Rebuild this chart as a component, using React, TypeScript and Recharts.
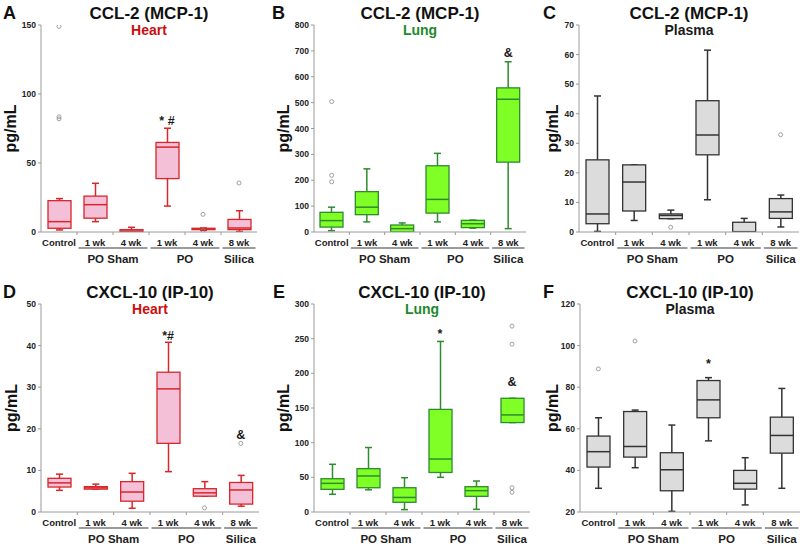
import React from 'react';
import { ComposedChart, Bar, Line, XAxis, YAxis } from 'recharts';

const FONT = "'Liberation Sans', Arial, Helvetica, sans-serif";

const categories = ['Control', 'Sham 1 wk', 'Sham 4 wk', 'PO 1 wk', 'PO 4 wk', 'Silica 8 wk'];
const tickLabels = ['Control', '1 wk', '4 wk', '1 wk', '4 wk', '8 wk'];
const groupLabels = [
  { label: 'PO Sham', start: 1, span: 2 },
  { label: 'PO', start: 3, span: 2 },
  { label: 'Silica', start: 5, span: 1 },
];

// A: CCL-2 heart
const aMin = [1.5, 7.5, 0, 18.8, 1.2, 0.4];
const aQ1 = [2.7, 10, 0.2, 38.7, 1.7, 1.7];
const aMed = [7.5, 19.8, 0.7, 61.5, 2.2, 2.9];
const aQ3 = [22.7, 26, 1.7, 64.9, 2.7, 9.1];
const aMax = [24.2, 35.3, 3.4, 75.2, 2.9, 15.4];
const aOut = [[149, 83.5, 82], [], [], [], [12.8, 1.0], [35.5]];
const aMarks = ['', '', '', '* #', '', ''];
const aMarkY = [null, null, null, 80.5, null, null];
const aTicks = [0, 50, 100, 150];

// B: CCL-2 lung
const bMin = [5, 39, 0, 39, 15, 13];
const bQ1 = [19, 67, 0, 73, 17, 270];
const bMed = [44, 96, 13, 126, 32, 513];
const bQ3 = [76, 156, 27, 256, 45, 557];
const bMax = [96, 244, 35, 304, 46, 658];
const bOut = [[504, 219, 194], [], [], [], [], []];
const bMarks = ['', '', '', '', '', '&'];
const bMarkY = [null, null, null, null, null, 694];
const bTicks = [0, 100, 200, 300, 400, 500, 600, 700, 800];

// C: CCL-2 plasma
const cMin = [0.2, 3.9, 4.5, 10.9, 0, 1.7];
const cQ1 = [2.8, 7.1, 4.5, 26.1, 0.1, 4.6];
const cMed = [6.1, 16.9, 5.6, 32.8, 0.1, 6.8];
const cQ3 = [24.4, 22.7, 6.1, 44.4, 3.3, 11.3];
const cMax = [46, 22.7, 7.4, 61.5, 4.6, 12.5];
const cOut = [[], [], [1.6], [], [], [32.9]];
const cMarks = ['', '', '', '', '', ''];
const cMarkY = [null, null, null, null, null, null];
const cTicks = [0, 10, 20, 30, 40, 50, 60, 70];

// D: CXCL-10 heart
const dMin = [5.2, 5.5, 0.9, 9.7, 3.8, 1.4];
const dQ1 = [6.0, 5.5, 2.6, 16.5, 3.8, 1.9];
const dMed = [7.0, 5.8, 4.8, 29.6, 4.6, 5.3];
const dQ3 = [8.1, 6.1, 7.3, 33.6, 5.6, 7.1];
const dMax = [9.1, 6.7, 9.3, 40.8, 7.3, 8.8];
const dOut = [[], [], [], [], [1.0], [16.5]];
const dMarks = ['', '', '', '*#', '', '&'];
const dMarkY = [null, null, null, 42.5, null, 18.6];
const dTicks = [0, 10, 20, 30, 40, 50];

// E: CXCL-10 lung
const eMin = [25.5, 32, 3.4, 50, 3.8, 129];
const eQ1 = [32.7, 35, 14, 57, 22.6, 129];
const eMed = [41.3, 52, 21, 76.4, 30.8, 140];
const eQ3 = [48, 62.5, 35, 148, 36.5, 164];
const eMax = [68.8, 93, 49.5, 246, 44.7, 164];
const eOut = [[], [], [], [], [], [268, 242, 35, 28.4]];
const eMarks = ['', '', '', '*', '', '&'];
const eMarkY = [null, null, null, 257, null, 188];
const eTicks = [0, 50, 100, 150, 200, 250, 300];

// F: CXCL-10 plasma
const fMin = [31.4, 41.3, 20.3, 54.2, 23.4, 31.4];
const fQ1 = [41.6, 46.4, 30.2, 65.3, 31, 48.3];
const fMed = [49, 51.5, 40.3, 73.9, 33.8, 56.8];
const fQ3 = [56.5, 68.3, 48.5, 83.2, 40, 65.6];
const fMax = [65.3, 69, 61.8, 84.6, 46.1, 79.4];
const fOut = [[88.8], [102.2], [], [], [], []];
const fMarks = ['', '', '', '*', '', ''];
const fMarkY = [null, null, null, 91.4, null, null];
const fTicks = [20, 40, 60, 80, 100, 120];

const heart = { fill: '#f3c0d8', stroke: '#d8262a', label: '#cc0d0d' };
const lung = { fill: '#80ff26', stroke: '#2e8b2e', label: '#1b8a2b' };
const plasma = { fill: '#dcdcdc', stroke: '#333333', label: '#1a1a1a' };

function buildRows(mins, q1s, meds, q3s, maxs, outs, marks, markYs) {
  return categories.map((cat, i) => ({
    cat,
    range: [mins[i], maxs[i]],
    q1: q1s[i],
    med: meds[i],
    q3: q3s[i],
    o1: outs[i][0] ?? null,
    o2: outs[i][1] ?? null,
    o3: outs[i][2] ?? null,
    o4: outs[i][3] ?? null,
    mark: marks[i],
    markY: markYs[i],
  }));
}

const row1 = { top: 0, height: 270, plotTop: 25, xHeight: 38 };
const row2 = { top: 270, height: 277, plotTop: 34, xHeight: 35 };

const panels = [
  { ...row1, left: 0, width: 265, yWidth: 41, right: 8, letterX: 3, yLabelX: 11, letter: 'A', title: 'CCL-2 (MCP-1)', sub: 'Heart', theme: heart, domain: [0, 150], ticks: aTicks, rows: buildRows(aMin, aQ1, aMed, aQ3, aMax, aOut, aMarks, aMarkY) },
  { ...row1, left: 265, width: 265, yWidth: 49, right: 4, letterX: 7, yLabelX: 19, letter: 'B', title: 'CCL-2 (MCP-1)', sub: 'Lung', theme: lung, domain: [0, 800], ticks: bTicks, rows: buildRows(bMin, bQ1, bMed, bQ3, bMax, bOut, bMarks, bMarkY) },
  { ...row1, left: 530, width: 270, yWidth: 49, right: 1, letterX: 13, yLabelX: 23, letter: 'C', title: 'CCL-2 (MCP-1)', sub: 'Plasma', theme: plasma, domain: [0, 70], ticks: cTicks, rows: buildRows(cMin, cQ1, cMed, cQ3, cMax, cOut, cMarks, cMarkY) },
  { ...row2, left: 0, width: 265, yWidth: 41, right: 6, letterX: 3, yLabelX: 12, letter: 'D', title: 'CXCL-10 (IP-10)', sub: 'Heart', theme: heart, domain: [0, 50], ticks: dTicks, rows: buildRows(dMin, dQ1, dMed, dQ3, dMax, dOut, dMarks, dMarkY) },
  { ...row2, left: 265, width: 265, yWidth: 49, right: 0, letterX: 8, yLabelX: 19, letter: 'E', title: 'CXCL-10 (IP-10)', sub: 'Lung', theme: lung, domain: [0, 300], ticks: eTicks, rows: buildRows(eMin, eQ1, eMed, eQ3, eMax, eOut, eMarks, eMarkY) },
  { ...row2, left: 530, width: 270, yWidth: 50, right: 0, letterX: 13, yLabelX: 23, letter: 'F', title: 'CXCL-10 (IP-10)', sub: 'Plasma', theme: plasma, domain: [20, 120], ticks: fTicks, rows: buildRows(fMin, fQ1, fMed, fQ3, fMax, fOut, fMarks, fMarkY) },
];

// box + whiskers drawn from the bar's [min, max] rectangle
const makeBox = (theme) => (props: any) => {
  const { x, y, width, height, payload } = props;
  if (!payload) return <g />;
  const top = Math.min(y, y + height);
  const h = Math.abs(height);
  const [lo, hi] = payload.range;
  const py = (v: number) => (hi === lo ? top : top + (h * (hi - v)) / (hi - lo));
  const cx = x + width / 2;
  const cap = 3.5;
  return (
    <g>
      <line x1={cx} x2={cx} y1={py(hi)} y2={py(payload.q3)} stroke={theme.stroke} strokeWidth={1.5} />
      <line x1={cx} x2={cx} y1={py(payload.q1)} y2={py(lo)} stroke={theme.stroke} strokeWidth={1.5} />
      <line x1={cx - cap} x2={cx + cap} y1={py(hi)} y2={py(hi)} stroke={theme.stroke} strokeWidth={1.5} />
      <line x1={cx - cap} x2={cx + cap} y1={py(lo)} y2={py(lo)} stroke={theme.stroke} strokeWidth={1.5} />
      <rect x={x} y={py(payload.q3)} width={width} height={Math.max(py(payload.q1) - py(payload.q3), 0.5)} fill={theme.fill} stroke={theme.stroke} strokeWidth={1.3} />
      <line x1={x} x2={x + width} y1={py(payload.med)} y2={py(payload.med)} stroke={theme.stroke} strokeWidth={1.5} />
    </g>
  );
};

const renderOutlier = (props: any) => {
  const { cx, cy } = props;
  if (typeof cy !== 'number' || isNaN(cy)) return <g key={props.key} />;
  return <circle key={props.key} cx={cx} cy={cy} r={2} fill="none" stroke="#8a8a8a" strokeWidth={0.8} />;
};

const renderMark = (props: any) => {
  const { cx, cy, payload } = props;
  if (typeof cy !== 'number' || isNaN(cy) || !payload?.mark) return <g key={props.key} />;
  return (
    <text key={props.key} x={cx} y={cy + 4.5} textAnchor="middle" fontSize={12.5} fontWeight={700} fill="#1a1a1a" fontFamily={FONT}>
      {payload.mark}
    </text>
  );
};

const makeXTick = (band: number) => (props: any) => {
  const { x, y, payload } = props;
  const i = payload?.index ?? props.index;
  const group = groupLabels.find((g) => g.start === i);
  return (
    <g>
      {i > 0 && <line x1={x - band / 2} x2={x - band / 2} y1={y} y2={y + 3} stroke="#9a9a9a" strokeWidth={1} />}
      <text x={x} y={y + 13.5} textAnchor="middle" fontSize={9.5} fontWeight={700} fill="#222" fontFamily={FONT}>
        {tickLabels[i]}
      </text>
      {group && (
        <g>
          <line x1={x - band / 2 + 1.5} x2={x - band / 2 + band * group.span - 1.5} y1={y + 16} y2={y + 16} stroke="#7a7a7a" strokeWidth={1.6} />
          <text x={x - band / 2 + (band * group.span) / 2} y={y + 31} textAnchor="middle" fontSize={11.5} fontWeight={700} fill="#222" fontFamily={FONT}>
            {group.label}
          </text>
        </g>
      )}
    </g>
  );
};

function Panel({ p }) {
  const plotW = p.width - p.yWidth - p.right;
  const band = plotW / categories.length;
  const plotBottom = p.height - p.xHeight;
  const plotMid = (p.plotTop + plotBottom) / 2;
  const titleX = p.yWidth + plotW / 2;
  return (
    <div style={{ position: 'absolute', left: p.left, top: p.top, width: p.width, height: p.height }}>
      <ComposedChart width={p.width} height={p.height} data={p.rows} margin={{ top: p.plotTop, right: p.right, bottom: 0, left: 0 }}>
        <XAxis
          dataKey="cat"
          type="category"
          height={p.xHeight}
          interval={0}
          tickLine={false}
          tickSize={0}
          tickMargin={0}
          axisLine={{ stroke: '#9a9a9a', strokeWidth: 1 }}
          tick={makeXTick(band)}
        />
        <YAxis
          type="number"
          domain={p.domain}
          ticks={p.ticks}
          interval={0}
          allowDataOverflow
          width={p.yWidth}
          tickSize={3}
          tickMargin={2}
          axisLine={{ stroke: '#9a9a9a', strokeWidth: 1 }}
          tickLine={{ stroke: '#9a9a9a' }}
          tick={{ fontSize: 8.5, fontWeight: 700, fill: '#222', fontFamily: FONT }}
        />
        <Bar dataKey="range" barSize={23} isAnimationActive={false} shape={makeBox(p.theme)} />
        {['o1', 'o2', 'o3', 'o4'].map((k) => (
          <Line key={k} dataKey={k} stroke="none" isAnimationActive={false} dot={renderOutlier} activeDot={false} />
        ))}
        <Line dataKey="markY" stroke="none" isAnimationActive={false} dot={renderMark} activeDot={false} />
      </ComposedChart>
      <svg width={p.width} height={p.height} style={{ position: 'absolute', left: 0, top: 0, pointerEvents: 'none' }} fontFamily={FONT}>
        <text x={p.letterX} y={p.plotTop - 6.5} fontSize={18} fontWeight={700} fill="#111">{p.letter}</text>
        <text x={titleX} y={p.plotTop - 6} textAnchor="middle" fontSize={17} fontWeight={700} fill="#111">{p.title}</text>
        <text x={titleX} y={p.plotTop + 9.5} textAnchor="middle" fontSize={14} fontWeight={700} fill={p.theme.label}>{p.sub}</text>
        <text transform={`translate(${p.yLabelX + 5}, ${plotMid}) rotate(-90)`} textAnchor="middle" fontSize={16} fontWeight={700} fill="#111">pg/mL</text>
      </svg>
    </div>
  );
}

export default function App() {
  return (
    <div style={{ position: 'absolute', left: 0, top: 0, width: 800, height: 547, background: '#fff', fontFamily: FONT }}>
      {panels.map((p) => (
        <Panel key={p.letter} p={p} />
      ))}
    </div>
  );
}
